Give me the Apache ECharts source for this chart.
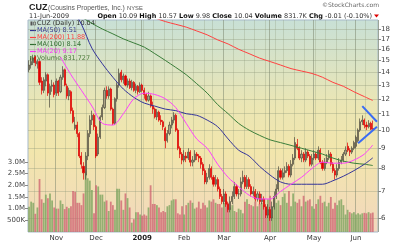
<!DOCTYPE html>
<html><head><meta charset="utf-8">
<script src="https://cdn.jsdelivr.net/npm/echarts@6/dist/echarts.min.js"></script>
<style>html,body{margin:0;padding:0;background:#fff}#c{width:400px;height:243px}</style>
</head><body><div id="c"></div>
<script>
// ---- data ----
const firstDay = '2008-10-15';
const nBars = 165;
const holidays = ['2008-11-27','2008-12-25','2009-01-01','2009-01-19','2009-02-16','2009-04-10','2009-05-25'];
const monthLabels = ['Nov','Dec','2009','Feb','Mar','Apr','May','Jun'];

const opens = [14.2,14.6,14.8,15.3,14.7,14.9,13.3,12.6,13.3,13.8,
12.3,12.9,13.0,12.4,13.3,12.5,13.6,14.2,12.9,12.2,
12.5,11.2,10.1,10.3,9.8,8.6,8.1,7.7,8.6,9.8,
10.6,10.9,10.2,8.7,9.6,10.8,11.4,12.6,12.2,12.7,
11.3,10.4,12.0,13.0,14.0,13.4,13.7,13.0,13.3,12.8,
13.2,12.6,12.9,12.5,13.0,12.6,12.3,11.9,12.2,11.5,
11.3,10.8,11.1,10.6,10.5,10.1,9.4,9.8,10.3,10.6,
10.9,10.0,9.0,8.7,8.4,8.6,8.5,8.8,8.3,8.4,
8.7,8.6,8.5,8.2,7.9,7.4,7.6,8.0,7.6,7.3,
7.5,7.1,6.8,6.6,6.9,6.5,6.3,6.6,6.8,7.2,
6.9,6.9,7.4,7.6,7.2,7.5,7.2,6.9,7.0,6.7,
6.9,6.6,6.7,6.4,6.1,6.3,6.0,6.4,6.8,7.1,
7.9,7.6,7.8,7.9,8.1,7.7,8.2,8.5,9.2,9.0,
8.5,8.7,8.4,8.8,8.6,8.2,8.5,8.7,8.5,8.9,
8.3,8.0,8.3,8.5,8.7,8.2,7.9,7.7,8.0,8.3,
8.4,8.7,9.1,8.9,8.8,9.0,9.1,9.4,10.0,10.5,
10.6,10.3,10.2,10.4,10.09];
const highs = [15.0,15.2,15.5,15.4,15.1,15.0,13.6,13.6,14.0,13.9,
13.1,13.4,13.2,13.5,13.4,13.8,14.5,14.3,13.1,12.8,
12.6,11.4,10.8,10.5,9.9,8.8,8.3,8.8,10.0,10.9,
11.2,11.0,10.3,9.8,10.9,11.6,12.8,12.9,12.9,12.8,
11.4,12.1,13.2,14.3,14.2,13.9,13.8,13.5,13.5,13.4,
13.3,13.1,13.0,13.2,13.1,12.8,12.4,12.5,12.3,11.8,
11.4,11.3,11.2,10.9,10.6,10.2,10.0,10.5,10.8,11.1,
11.0,10.1,9.1,8.8,8.9,8.8,9.0,8.9,8.6,8.9,
8.8,8.7,8.6,8.3,8.0,7.8,8.2,8.1,7.7,7.7,
7.6,7.2,6.9,7.1,7.0,6.6,6.8,7.0,7.4,7.3,
7.1,7.6,7.9,7.7,7.7,7.6,7.3,7.2,7.1,7.0,
7.0,6.9,6.8,6.5,6.5,6.4,6.6,7.0,7.3,8.1,
8.0,8.0,8.1,8.3,8.2,8.4,8.7,9.6,9.5,9.1,
8.9,8.8,9.0,8.9,8.7,8.7,8.9,8.8,9.1,9.0,
8.4,8.5,8.7,8.9,8.8,8.3,8.0,8.2,8.5,8.6,
8.8,9.1,9.3,9.0,9.1,9.4,9.7,10.1,10.7,10.9,
10.7,10.5,10.6,10.5,10.57];
const lows = [14.0,14.3,14.6,14.5,14.3,13.0,12.3,12.4,12.9,12.2,
11.4,12.5,12.1,12.2,12.2,12.4,13.4,12.9,12.0,11.9,
11.0,10.4,10.0,9.6,8.5,8.0,7.5,7.5,8.4,9.6,
10.3,10.0,8.5,8.6,9.5,10.6,11.3,12.0,12.0,11.2,
10.3,10.3,11.8,12.8,13.2,13.1,12.9,12.8,12.7,12.6,
12.5,12.4,12.3,12.4,12.5,12.0,11.8,11.8,11.4,11.0,
10.7,10.6,10.5,10.3,10.0,9.0,9.3,9.7,10.1,10.4,
9.9,8.9,8.5,8.2,8.3,8.3,8.4,8.1,8.1,8.3,
8.4,8.3,8.0,7.7,7.3,7.3,7.5,7.5,7.2,7.2,
7.0,6.7,6.5,6.5,6.4,6.2,6.2,6.5,6.7,6.8,
6.7,6.8,7.3,7.1,7.1,7.1,6.8,6.8,6.6,6.6,
6.5,6.5,6.3,6.0,6.0,5.9,5.9,6.3,6.7,7.0,
7.5,7.5,7.6,7.8,7.6,7.6,8.1,8.4,8.9,8.4,
8.3,8.3,8.3,8.5,8.1,8.1,8.4,8.4,8.4,8.2,
7.9,7.9,8.2,8.4,8.1,7.8,7.5,7.6,7.9,8.2,
8.3,8.6,8.8,8.6,8.7,8.9,9.0,9.3,9.9,10.3,
10.1,10.0,10.1,10.0,9.98];
const closes = [14.6,14.9,15.2,14.8,14.9,13.2,12.6,13.4,13.8,12.4,
12.9,13.0,12.3,13.3,12.4,13.6,14.2,13.0,12.2,12.6,
11.2,10.5,10.3,9.8,8.6,8.2,7.8,8.6,9.8,10.6,
10.9,10.2,8.6,9.6,10.8,11.4,12.6,12.2,12.7,11.3,
10.4,12.0,13.0,13.9,13.4,13.7,13.0,13.3,12.8,13.2,
12.6,12.9,12.5,13.0,12.6,12.3,11.9,12.2,11.5,11.3,
10.8,11.1,10.6,10.5,10.2,9.4,9.8,10.3,10.6,10.9,
10.0,9.0,8.7,8.4,8.6,8.5,8.8,8.3,8.4,8.7,
8.6,8.5,8.2,7.9,7.4,7.6,8.0,7.6,7.3,7.5,
7.1,6.8,6.6,6.9,6.5,6.3,6.6,6.8,7.2,6.9,
6.9,7.4,7.6,7.2,7.5,7.2,6.9,7.0,6.7,6.9,
6.6,6.7,6.4,6.1,6.3,6.0,6.4,6.8,7.1,7.9,
7.6,7.8,7.9,8.1,7.7,8.2,8.5,9.3,9.0,8.5,
8.7,8.4,8.8,8.6,8.2,8.5,8.7,8.5,8.9,8.3,
8.0,8.3,8.5,8.7,8.2,7.9,7.7,8.0,8.3,8.4,
8.7,8.9,8.9,8.8,9.0,9.3,9.6,10.0,10.5,10.6,
10.3,10.2,10.4,10.05,10.04];
// volume in millions of shares
const volumes = [1.08,1.30,1.25,0.78,1.05,2.27,1.40,1.25,1.60,1.45,
1.65,1.35,1.05,1.00,1.00,1.35,1.20,0.98,1.08,1.02,
1.10,1.75,1.72,1.25,1.25,1.15,1.65,2.59,2.30,2.20,
1.80,0.80,2.00,1.95,1.60,1.60,1.30,1.35,0.90,1.30,
1.15,0.95,1.85,1.85,1.35,0.95,1.65,1.45,1.05,0.40,
0.55,0.85,0.85,0.75,0.70,0.75,0.70,1.05,2.00,1.20,
1.20,1.15,1.05,0.85,0.90,0.85,1.10,1.15,1.35,1.40,
1.40,0.80,0.75,1.10,0.75,1.15,1.25,1.35,1.25,1.00,
1.05,1.30,1.00,1.25,1.15,1.05,1.35,1.30,1.40,1.25,
1.20,1.20,1.05,1.25,1.35,1.25,1.05,1.15,0.90,0.85,
1.00,0.95,0.80,1.30,1.40,1.20,1.15,1.10,1.30,1.10,
1.20,1.25,1.15,1.05,1.40,1.55,1.10,1.50,1.25,1.35,
1.15,1.50,1.65,1.25,1.75,1.10,1.65,1.30,1.25,1.40,
1.10,1.55,1.30,1.35,1.40,1.10,1.00,1.20,1.40,1.55,
1.25,1.30,1.10,1.25,1.50,1.00,1.25,1.15,1.35,1.40,
1.15,0.75,0.95,0.85,0.80,0.85,0.75,0.80,0.75,0.80,
0.82,0.80,0.85,0.80,0.832];

// moving averages read at every 5th bar (bar index in maBars)
const maBars = [0,5,10,15,20,25,30,35,40,45,50,55,60,65,70,75,80,85,90,95,100,105,110,115,120,125,130,135,140,145,150,155,160,164];
const ma50  = [25,24,23,22,20.5,18.5,16.1,14.7,13.6,12.7,12.1,11.7,11.5,11.3,11.2,11.0,10.9,10.6,10.2,9.5,8.9,8.6,8.1,7.7,7.4,7.3,7.3,7.3,7.3,7.45,7.65,7.9,8.2,8.51];
const ma200 = [null,null,null,null,null,null,null,null,null,null,null,19.6,19.2,18.8,18.5,18.2,17.8,17.4,16.9,16.5,16.0,15.6,15.2,14.9,14.6,14.3,14.1,13.9,13.6,13.2,12.9,12.5,12.15,11.88];
const ma100 = [null,null,null,null,null,19.3,18.6,18.0,17.5,17.0,16.6,16.2,15.6,15.0,14.4,13.8,13.1,12.4,11.6,11.0,10.4,10.0,9.7,9.45,9.3,9.15,9.0,8.85,8.7,8.5,8.35,8.25,8.2,8.14];
const ma20  = [null,null,null,15.3,13.8,12.6,11.5,10.4,10.3,11.0,12.0,12.4,12.3,12.0,11.4,10.4,9.5,9.0,8.2,7.6,7.2,6.85,6.7,6.7,7.0,7.3,7.6,8.0,8.3,8.25,8.25,8.4,8.7,9.17];

// hand-drawn pennant trendlines: [bar index, price]
const trendUpper = [[159,11.5],[166,10.5]];
const trendLower = [[157,9.27],[166,10.2]];

const priceTicks = [6,7,8,9,10,11,12,13,14,15,16,17,18];
const volTicks = [0.5,1.0,1.5,2.0,2.5,3.0];

// ---- build categories (trading days) ----
const dates = [];
(function(){
  let d = new Date(firstDay + 'T00:00:00Z');
  while (dates.length < nBars) {
    const iso = d.toISOString().slice(0,10);
    const wd = d.getUTCDay();
    if (wd !== 0 && wd !== 6 && holidays.indexOf(iso) < 0) dates.push(iso);
    d = new Date(d.getTime() + 86400000);
  }
})();
const cats = dates.concat(['pad1', 'pad2']); // right padding slots
const monthStart = {}; let mCount = 0;
const weekStart = {};
for (let i = 1; i < dates.length; i++) {
  if (dates[i].slice(5,7) !== dates[i-1].slice(5,7)) { monthStart[i] = monthLabels[mCount++]; }
  const a = new Date(dates[i] + 'T00:00:00Z').getUTCDay(), b = new Date(dates[i-1] + 'T00:00:00Z').getUTCDay();
  if (a <= b) weekStart[i] = true;
}

const candleData = opens.map((o,i) => [o, closes[i], lows[i], highs[i]]);
const volData = volumes.map((v,i) => ({
  value: v,
  itemStyle: { color: (i > 0 && closes[i] < closes[i-1]) ? 'rgba(205,95,110,0.75)' : 'rgba(125,165,95,0.8)' }
}));
function maSeries(vals){ const out=[]; maBars.forEach((b,k)=>{ if(vals[k]!=null) out.push([b, vals[k]]); }); return out; }

const FONT = '"DejaVu Sans", Verdana, sans-serif';
const SANS = '"Liberation Sans", Arial, sans-serif';
const chart = echarts.init(document.getElementById('c'), null, {renderer:'canvas'});
const legendY = [23.5, 30.5, 37.5, 44.5, 51.5, 58.5];
const maLeg = [
  ['MA(50) 8.51', '#303090'],
  ['MA(200) 11.88', '#ff3c3c'],
  ['MA(100) 8.14', '#2f6e2f'],
  ['MA(20) 9.17', '#ff30ff']
];
const graphics = [
  {type:'text', x:29, y:8, style:{text:'CUZ', font:'bold 9px '+SANS, fill:'#222', verticalAlign:'middle'}},
  {type:'text', x:48, y:8.5, style:{text:'(Cousins Properties, Inc.)', font:'6.8px '+SANS, fill:'#555', verticalAlign:'middle'}},
  {type:'text', x:127, y:8.5, style:{text:'NYSE', font:'5.8px '+SANS, fill:'#555', verticalAlign:'middle'}},
  {type:'text', x:379, y:5.5, style:{text:'©StockCharts.com', font:'6px '+FONT, fill:'#666', align:'right', verticalAlign:'middle'}},
  {type:'text', x:29, y:16, style:{text:'11-Jun-2009', font:'6.5px '+FONT, fill:'#333', verticalAlign:'middle'}},
  {type:'text', x:372, y:16, style:{
     text:'{b|Open} 10.09 {b|High} 10.57 {b|Low} 9.98 {b|Close} 10.04 {b|Volume} 831.7K {b|Chg} -0.01 (-0.10%)',
     font:'6.5px '+FONT, fill:'#333', align:'right', verticalAlign:'middle',
     rich:{b:{font:'bold 6.5px '+FONT, fill:'#111'}}}},
  {type:'polygon', shape:{points:[[374,14.5],[379,14.5],[376.5,17.5]]}, style:{fill:'#d00'}},
  // legend inside plot
  {type:'rect', shape:{x:30.5,y:21.5,width:2,height:4}, style:{fill:'#555'}},
  {type:'rect', shape:{x:33.5,y:22,width:2,height:3}, style:{fill:'none', stroke:'#555', lineWidth:0.7}},
  {type:'text', x:37, y:legendY[0], style:{text:'CUZ (Daily) 10.04', font:'6.5px '+FONT, fill:'#333', verticalAlign:'middle'}},
  {type:'rect', shape:{x:30,y:56,width:1.5,height:4.5}, style:{fill:'#5a9040'}},
  {type:'rect', shape:{x:32,y:57.5,width:1.5,height:3}, style:{fill:'#5a9040'}},
  {type:'rect', shape:{x:34,y:55,width:1.5,height:5.5}, style:{fill:'#5a9040'}},
  {type:'text', x:37, y:legendY[5], style:{text:'Volume 831,727', font:'6.5px '+FONT, fill:'#4b7a3b', verticalAlign:'middle'}}
];
maLeg.forEach((m,k)=>{
  graphics.push({type:'line', shape:{x1:30,y1:legendY[k+1],x2:36,y2:legendY[k+1]}, style:{stroke:m[1], lineWidth:1.2}});
  graphics.push({type:'text', x:37, y:legendY[k+1], style:{text:m[0], font:'6.5px '+FONT, fill:m[1], verticalAlign:'middle'}});
});

const option = {
  animation: false,
  backgroundColor: '#ffffff',
  grid: {
    left: 28, right: 22, top: 20, bottom: 11, show: true,
    borderColor: '#a7b9c9', borderWidth: 1,
    backgroundColor: new echarts.graphic.LinearGradient(0,0,0,1,[
      {offset:0, color:'#c8e0d6'},
      {offset:0.4, color:'#ebe6b4'},
      {offset:0.62, color:'#f2e6ac'},
      {offset:1, color:'#f2d7bd'}
    ])
  },
  xAxis: [
    { type:'category', data: cats, boundaryGap: true,
      axisLine:{show:false}, axisTick:{show:false},
      axisLabel:{ interval:(i)=> monthStart[i] !== undefined, margin:3,
        formatter:(v,i)=> monthStart[i]==='2009' ? '{y|2009}' : (monthStart[i]||''),
        fontSize:7, fontFamily:FONT, color:'#333', rich:{y:{fontWeight:'bold', fontSize:7, fontFamily:FONT, color:'#222'}} },
      splitLine:{ show:true, interval:(i)=> !!weekStart[i] && monthStart[i]===undefined, lineStyle:{color:'rgba(140,150,120,0.28)', width:1} }
    },
    { type:'category', data: cats, boundaryGap: true, position:'bottom',
      axisLine:{show:false}, axisTick:{show:false}, axisLabel:{show:false},
      splitLine:{ show:true, interval:(i)=> monthStart[i] !== undefined, lineStyle:{color:'rgba(120,130,105,0.5)', width:1} }
    }
  ],
  yAxis: [
    { type:'log', logBase:10, position:'right', min:5.53, max:18.97,
      axisLine:{show:false},
      axisTick:{show:true, length:3, customValues: priceTicks, lineStyle:{color:'#888'}},
      axisLabel:{customValues: priceTicks, margin:3, fontSize:7, fontFamily:FONT, color:'#444', formatter:(v)=>String(Math.round(v))},
      splitLine:{show:true, lineStyle:{color:'rgba(140,150,120,0.35)', width:1}}
    },
    { type:'value', position:'left', min:0, max:9.075,
      axisLine:{show:false},
      axisTick:{show:true, length:3, customValues: volTicks, lineStyle:{color:'#888'}},
      axisLabel:{customValues: volTicks, margin:3, fontSize:7, fontFamily:FONT, color:'#444',
        formatter:(v)=> v < 1 ? Math.round(v*1000)+'K' : v.toFixed(1)+'M'},
      splitLine:{show:false}
    }
  ],
  series: [
    { type:'bar', xAxisIndex:0, yAxisIndex:1, data: volData, barWidth:1.8, z:1, silent:true },
    { type:'candlestick', xAxisIndex:0, yAxisIndex:0, data: candleData, barWidth:1.6, z:3,
      itemStyle:{ color:'#aaa284', color0:'#e00000', borderColor:'#4e4a3e', borderColor0:'#e00000', borderWidth:0.7 } },
    { type:'line', xAxisIndex:0, yAxisIndex:0, data: maSeries(ma200), showSymbol:false, smooth:0.3, z:4, lineStyle:{color:'#ff4040', width:1} },
    { type:'line', xAxisIndex:0, yAxisIndex:0, data: maSeries(ma100), showSymbol:false, smooth:0.3, z:4, lineStyle:{color:'#3a7d3a', width:1} },
    { type:'line', xAxisIndex:0, yAxisIndex:0, data: maSeries(ma50), showSymbol:false, smooth:0.3, z:4, lineStyle:{color:'#34349a', width:1} },
    { type:'line', xAxisIndex:0, yAxisIndex:0, data: maSeries(ma20), showSymbol:false, smooth:0.3, z:4, lineStyle:{color:'#ff40ff', width:1} },
    { type:'line', xAxisIndex:0, yAxisIndex:0, data: trendUpper, showSymbol:false, z:5, lineStyle:{color:'#3a6cf4', width:2} },
    { type:'line', xAxisIndex:0, yAxisIndex:0, data: trendLower, showSymbol:false, z:5, lineStyle:{color:'#3a6cf4', width:2} }
  ],
  graphic: graphics
};
chart.setOption(option);
</script></body></html>
